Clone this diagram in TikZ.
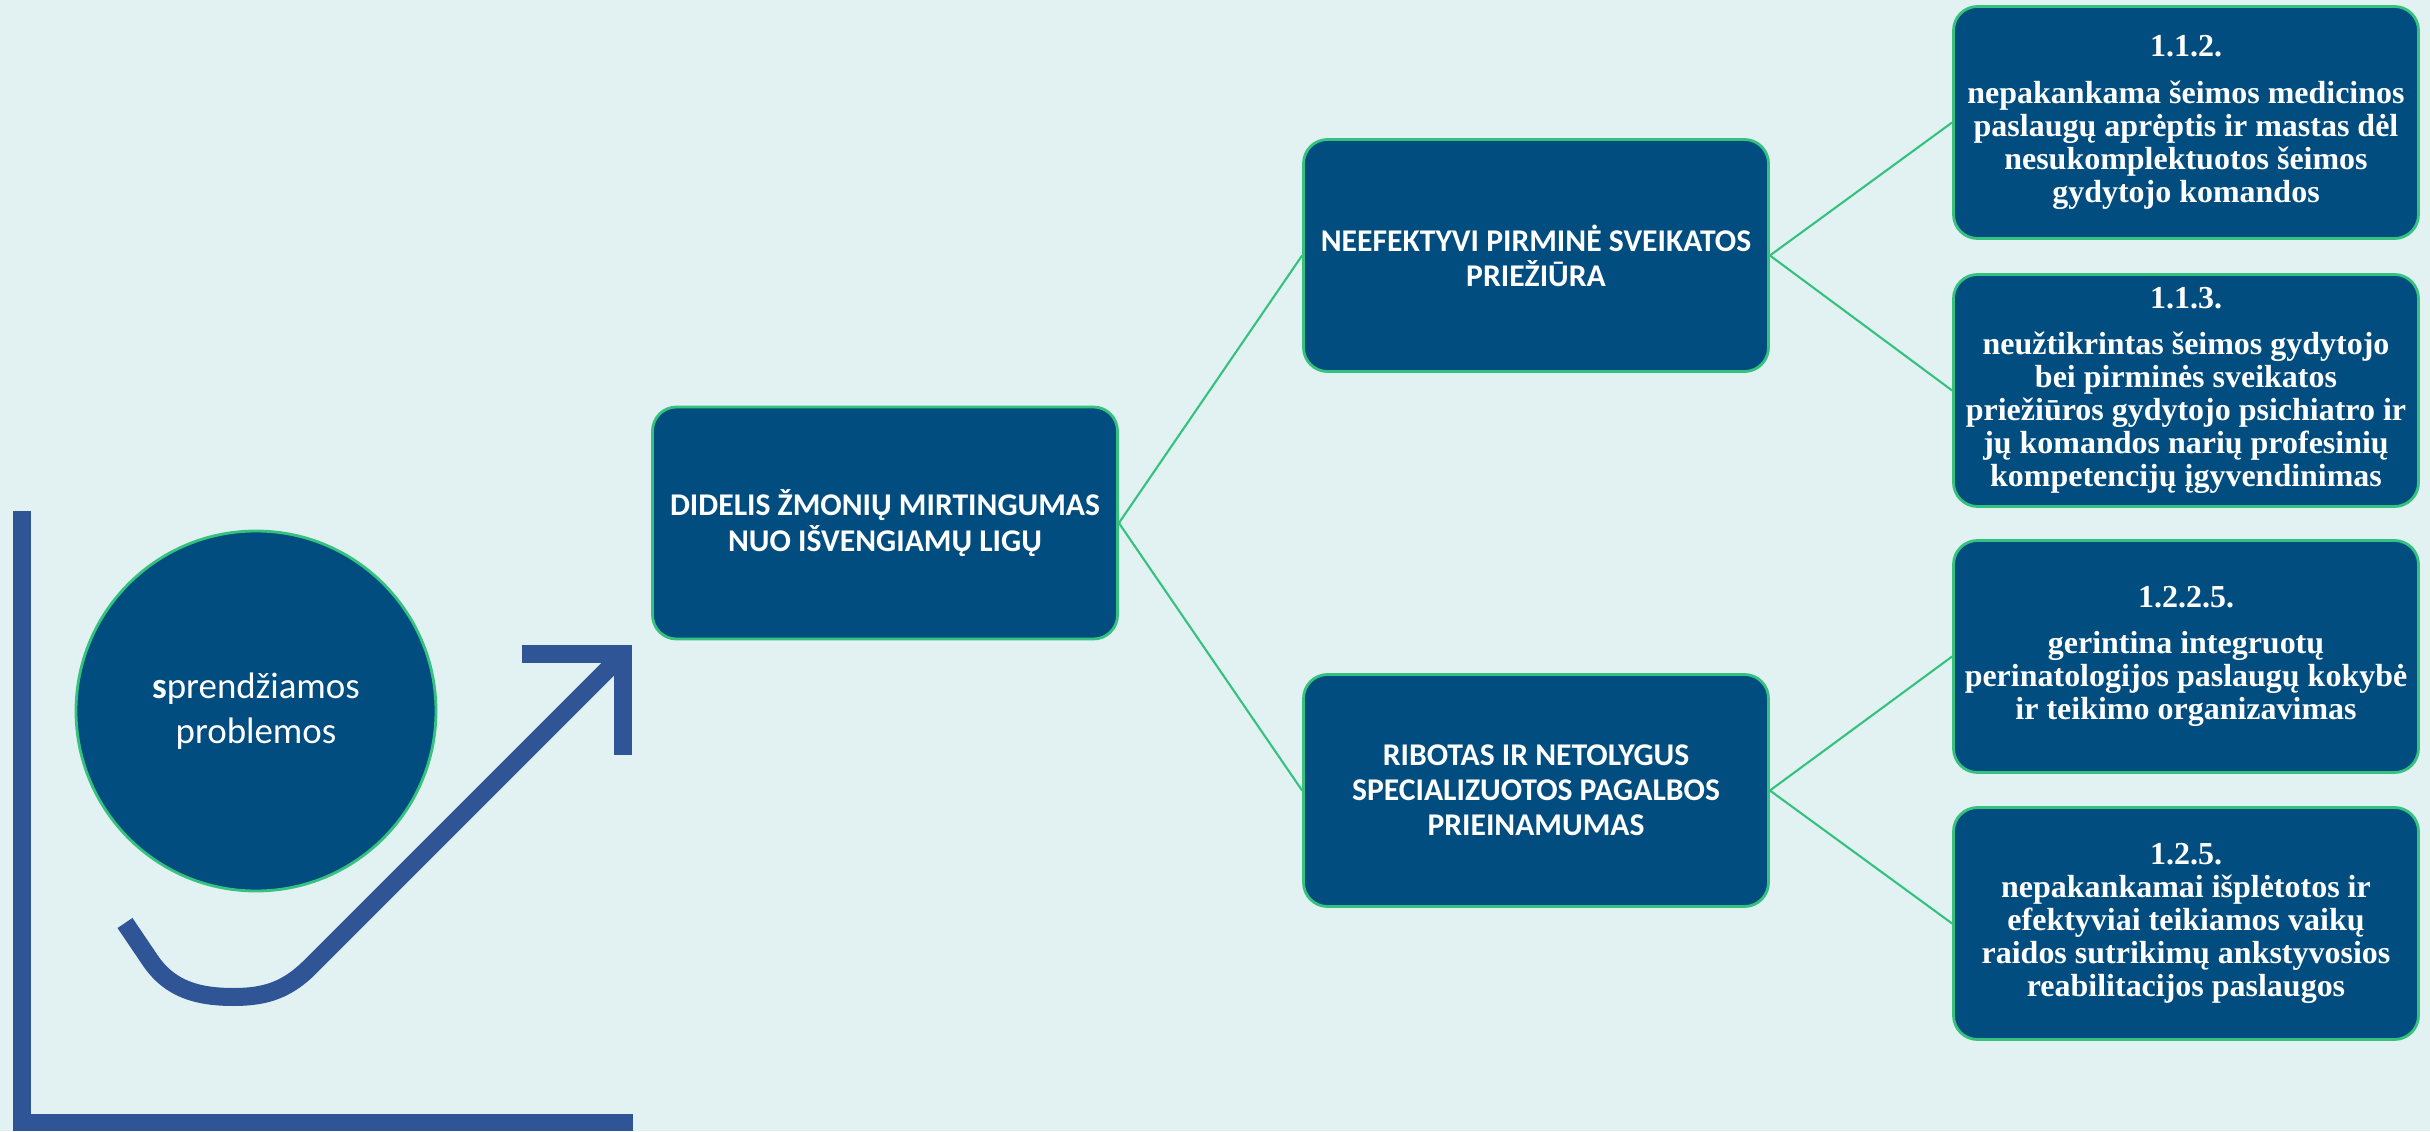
\documentclass[tikz,border=0pt]{standalone}
\usepackage{fontspec}
\setmainfont{Liberation Serif}
\newfontfamily\calibri{Carlito}
\definecolor{bgteal}{HTML}{E2F2F2}
\definecolor{boxblue}{HTML}{024D7F}
\definecolor{edgegreen}{HTML}{34C27E}
\definecolor{axisblue}{HTML}{2F5597}
\begin{document}
\begin{tikzpicture}[
  causebox/.style={rectangle,rounded corners=0.24cm,draw=edgegreen,line width=0.8pt,fill=boxblue,
    text=white,minimum width=4.65cm,minimum height=2.32cm,inner sep=0pt,align=center,
    font=\calibri\bfseries\fontsize{9pt}{10pt}\selectfont},
  measurebox/.style={causebox,font=\bfseries\fontsize{9.1pt}{9.4pt}\selectfont},
  topicdisc/.style={circle,draw=edgegreen,line width=0.8pt,fill=boxblue,text=white,minimum size=3.6cm,
    inner sep=0pt,align=center,font=\calibri\fontsize{10.5pt}{12.8pt}\selectfont},
  link/.style={draw=edgegreen,line width=0.6pt},
  swoosh/.style={draw=axisblue,line width=0.18cm}]
\useasboundingbox (0,0) rectangle (24.30,11.31);
\fill [bgteal] (0,0) rectangle (24.30,11.31);
\fill [axisblue] (0.13,0) rectangle (0.31,6.20);
\fill [axisblue] (0.13,0) rectangle (6.33,0.17);
\draw [swoosh] (1.25,2.08) -- (1.50,1.71) to[out=-56,in=180] (2.34,1.34)
    to[out=0,in=-135] (3.10,1.64) -- (6.20,4.74);
\draw [swoosh,line join=miter] (5.22,4.765) -- (6.23,4.765) -- (6.23,3.76);
\node (topic)  at  (2.56,4.20) [topicdisc]  {{\bfseries s}prendžiamos\\problemos};
\node (root)   at  (8.85,6.08) [causebox]   {DIDELIS ŽMONIŲ MIRTINGUMAS\\NUO IŠVENGIAMŲ LIGŲ};
\node (cause1) at (15.36,8.755) [causebox]  {NEEFEKTYVI PIRMINĖ SVEIKATOS\\PRIEŽIŪRA};
\node (cause2) at (15.36,3.405) [causebox]  {RIBOTAS IR NETOLYGUS\\SPECIALIZUOTOS PAGALBOS\\PRIEINAMUMAS};
\node (m112)   at (21.86,10.085) [measurebox] {1.1.2.\\[3.7pt]nepakankama šeimos medicinos\\paslaugų aprėptis ir mastas dėl\\nesukomplektuotos šeimos\\gydytojo komandos};
\node (m113)   at (21.86,7.405) [measurebox] {1.1.3.\\[3.7pt]neužtikrintas šeimos gydytojo\\bei pirminės sveikatos\\priežiūros gydytojo psichiatro ir\\jų komandos narių profesinių\\kompetencijų įgyvendinimas};
\node (m1225)  at (21.86,4.745) [measurebox] {1.2.2.5.\\[3.7pt]gerintina integruotų\\perinatologijos paslaugų kokybė\\ir teikimo organizavimas};
\node (m125)   at (21.86,2.075) [measurebox] {1.2.5.\\nepakankamai išplėtotos ir\\efektyviai teikiamos vaikų\\raidos sutrikimų ankstyvosios\\reabilitacijos paslaugos};
\draw [link] (root.east)   -- (cause1.west);
\draw [link] (root.east)   -- (cause2.west);
\draw [link] (cause1.east) -- (m112.west);
\draw [link] (cause1.east) -- (m113.west);
\draw [link] (cause2.east) -- (m1225.west);
\draw [link] (cause2.east) -- (m125.west);
\end{tikzpicture}
\end{document}
